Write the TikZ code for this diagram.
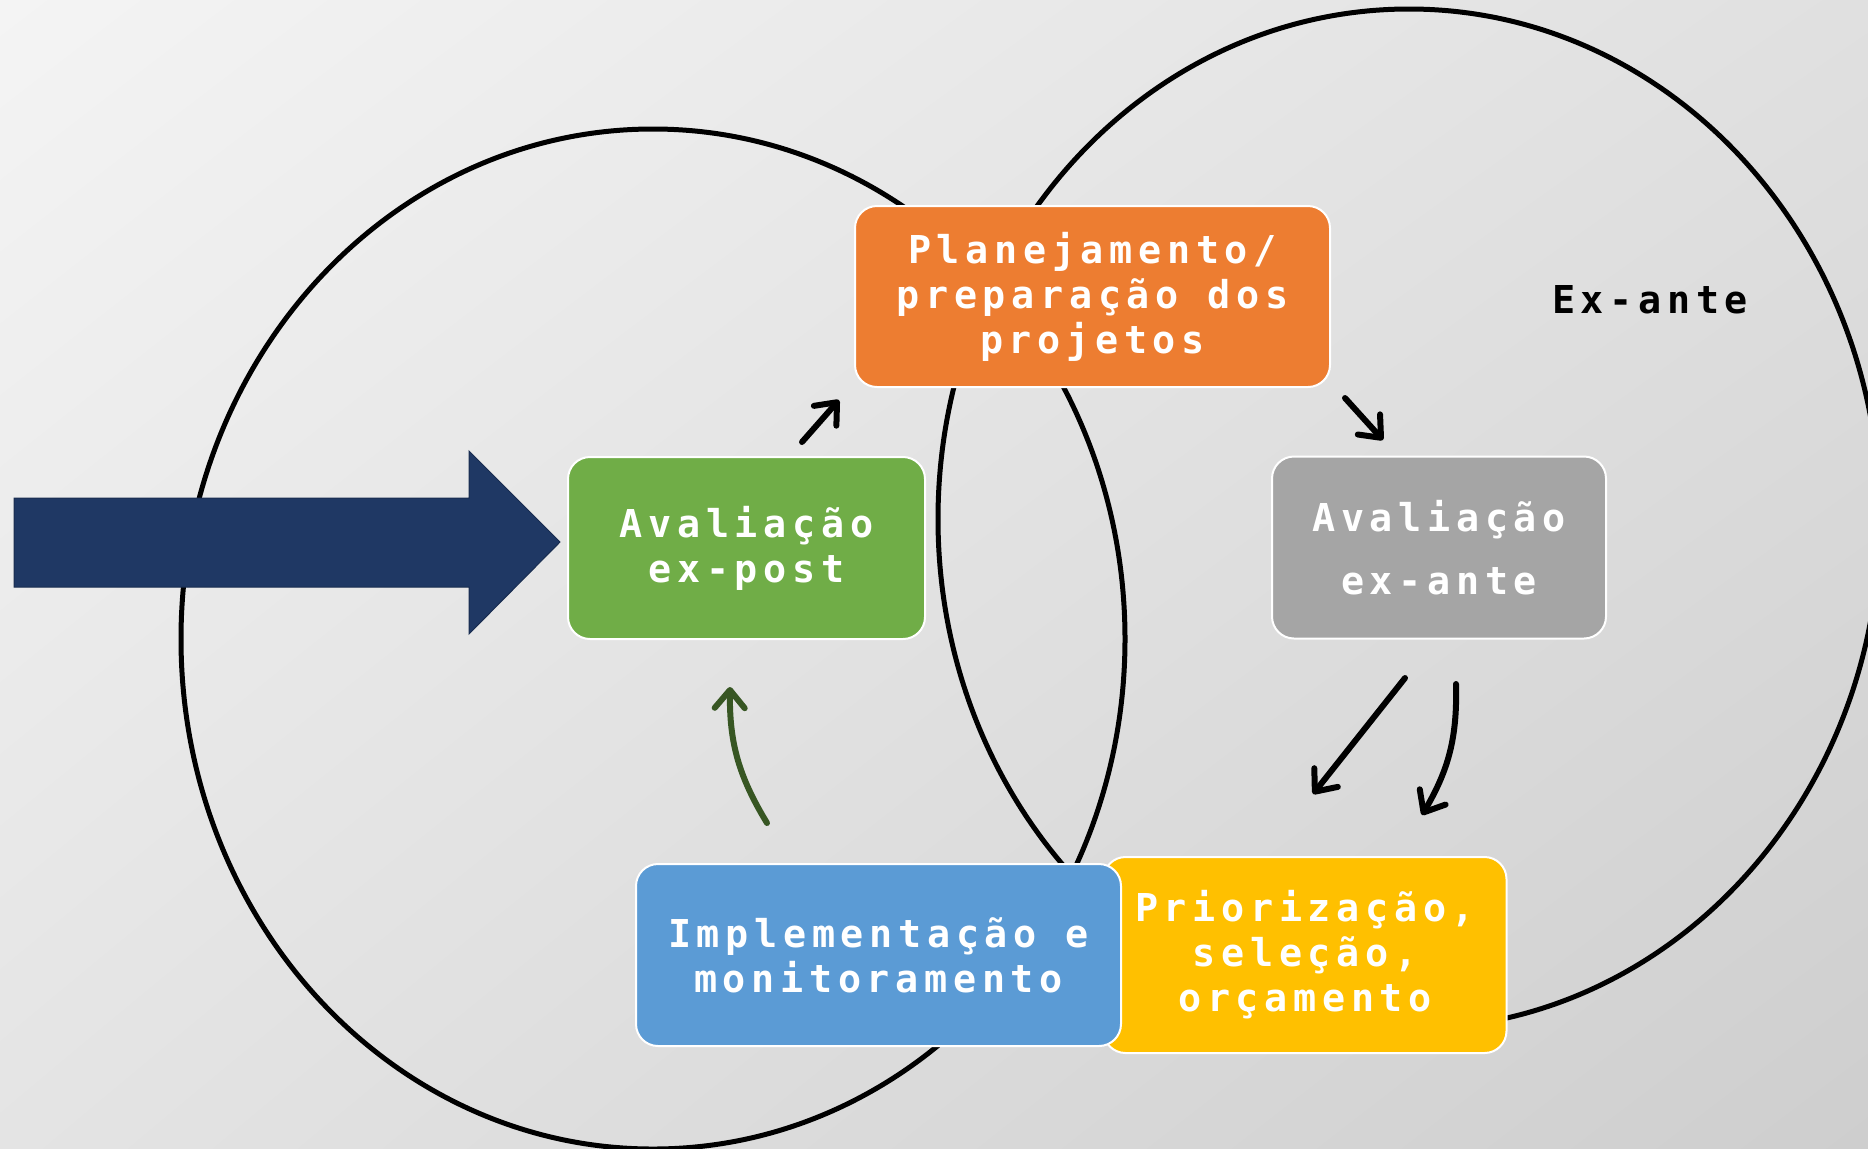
\documentclass[tikz,border=0pt]{standalone}
\usepackage{fontspec}
\newfontfamily\boxfont[LetterSpace=14.8]{DejaVu Sans Mono}
\usetikzlibrary{arrows.meta,shadings}
\definecolor{cOrange}{HTML}{ED7D31}
\definecolor{cGreen}{HTML}{70AD47}
\definecolor{cGray}{HTML}{A5A5A5}
\definecolor{cBlue}{HTML}{5B9BD5}
\definecolor{cYellow}{HTML}{FFC000}
\definecolor{cNavy}{HTML}{1F3864}
\definecolor{cDarkGreen}{HTML}{375623}
\definecolor{bgUL}{HTML}{F4F4F4}
\definecolor{bgUR}{HTML}{E0E0E0}
\definecolor{bgLL}{HTML}{E4E4E4}
\definecolor{bgLR}{HTML}{CECECE}
\begin{document}
\begin{tikzpicture}[x=0.5pt,y=-0.5pt,
  stage/.style={rounded corners=11pt, draw=white, line width=1pt, text=white,
    font={\boxfont\bfseries\fontsize{19.2pt}{22.5pt}\selectfont}, align=center, inner sep=0pt},
  ring/.style={line width=2.5pt, draw=black},
  flow/.style={line width=3pt, line cap=round,
    -{Straight Barb[length=9pt,width=15pt,line cap=round,line join=round]}}]

% background
\shade[upper left=bgUL, upper right=bgUR, lower left=bgLL, lower right=bgLR]
  (0,0) rectangle (1868,1148);
\useasboundingbox (0,0) rectangle (1868,1148);

% the two cycles
\draw[ring] (653,639) ellipse [x radius=472, y radius=510];
\draw[ring] (1409,519) ellipse [x radius=471, y radius=510];

% entry arrow
\fill[cNavy, draw=cNavy!80!black, line width=0.5pt]
  (14,498) -- (469,498) -- (469,451) -- (560,542) -- (469,634) -- (469,587) -- (14,587) -- cycle;

% stages
\node[stage, fill=cYellow, minimum width=201.5pt, minimum height=98pt] (prio) at (1305,955)
  {Priorização,\\seleção,\\orçamento};
\node[stage, fill=cBlue, minimum width=242.5pt, minimum height=91pt] (impl) at (878.5,955)
  {Implementação e\\monitoramento};
\node[stage, fill=cOrange, minimum width=237.5pt, minimum height=90.5pt] (plan) at (1092.5,296.5)
  {Planejamento/\\preparação dos\\projetos};
\node[stage, fill=cGreen, minimum width=178.5pt, minimum height=91pt] (expost) at (746.5,548)
  {Avaliação\\ex-post};
\node[stage, fill=cGray, minimum width=167pt, minimum height=91pt] (exante) at (1439,547.5)
  {Avaliação\\[9pt]ex-ante};

\node[font={\boxfont\bfseries\fontsize{19.2pt}{22.5pt}\selectfont}, text=black] (lbl) at (1650,300) {Ex-ante};

% arrow ends
\coordinate (a1s) at (802,442);  \coordinate (a1e) at (839,400);
\coordinate (a2s) at (1345,398); \coordinate (a2e) at (1383,440);
\coordinate (a3s) at (1405,678); \coordinate (a3e) at (1313,794);
\coordinate (a4s) at (1456,684); \coordinate (a4e) at (1422,815);
\coordinate (a5s) at (767,823);  \coordinate (a5e) at (730,687);

\draw[flow] (a1s) -- (a1e);
\draw[flow] (a2s) -- (a2e);
\draw[flow] (a3s) -- (a3e);
\draw[flow] (a4s) to[bend left=16] (a4e);
\draw[flow, draw=cDarkGreen] (a5s) to[bend left=16] (a5e);
\end{tikzpicture}
\end{document}
